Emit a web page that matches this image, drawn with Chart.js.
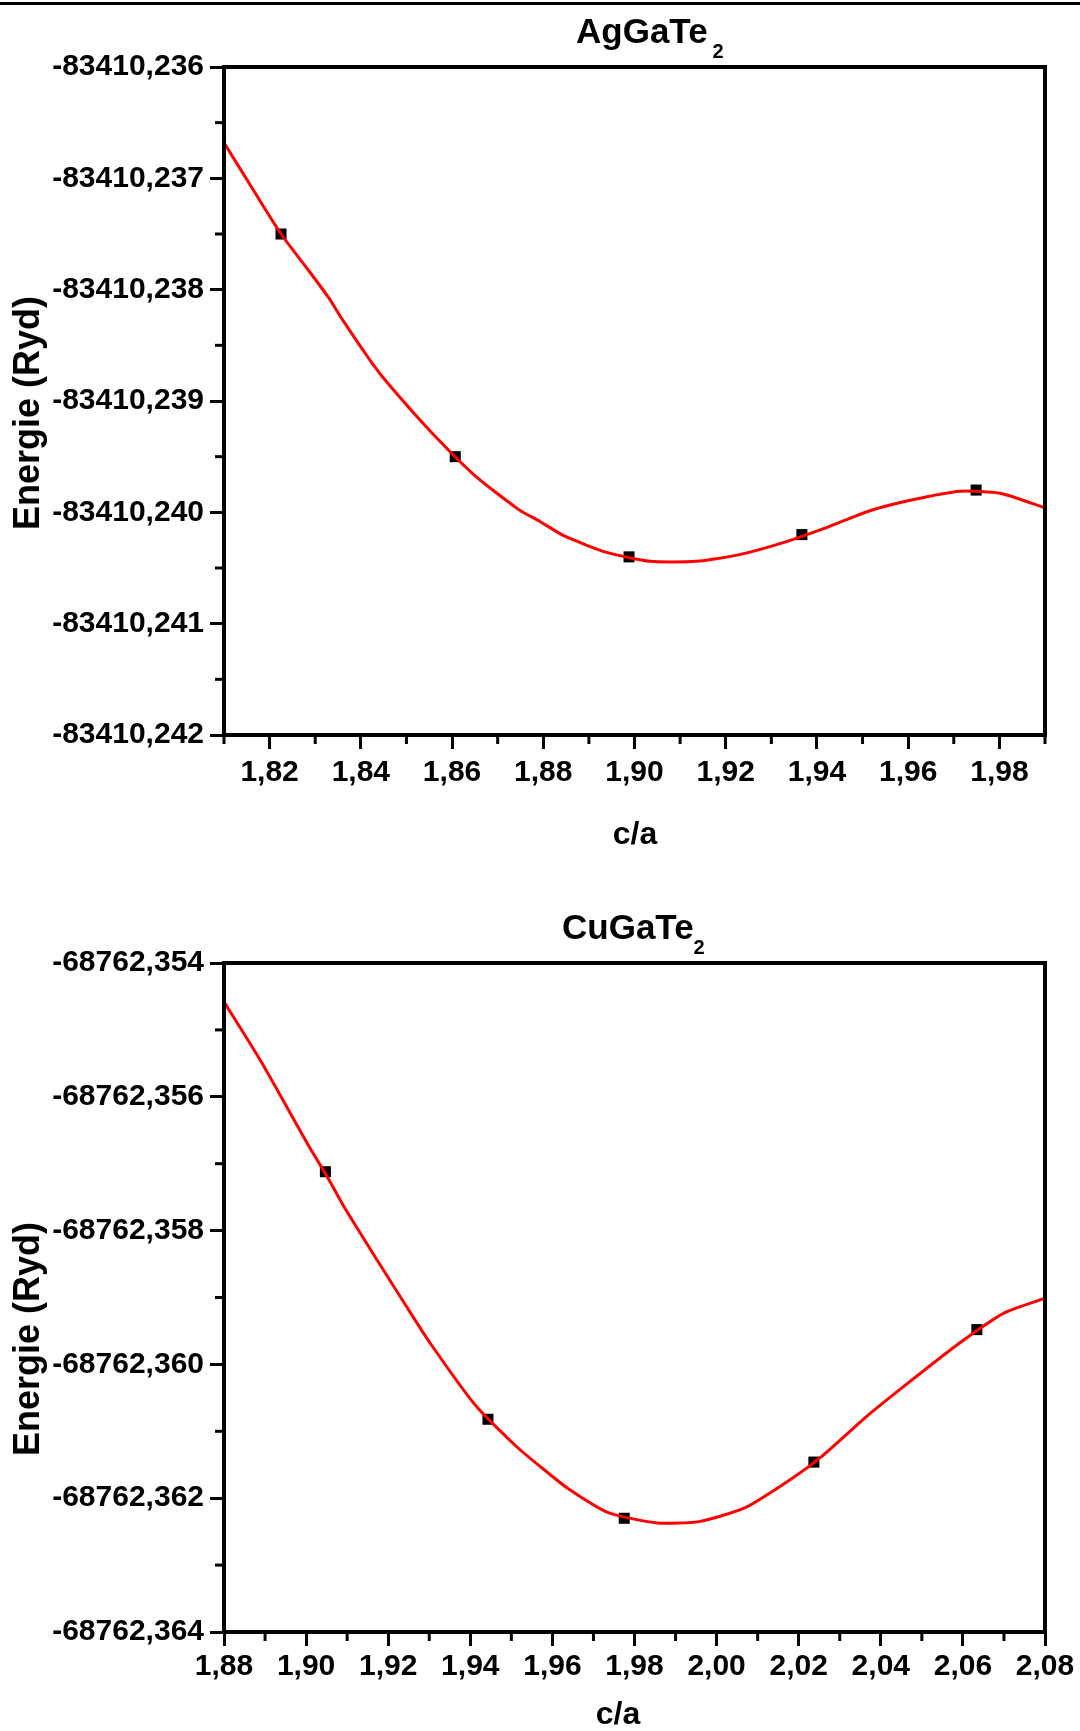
<!DOCTYPE html>
<html>
<head>
<meta charset="utf-8">
<script src="https://cdn.jsdelivr.net/npm/chart.js@4.4.1/dist/chart.umd.min.js"></script>
<style>
  html, body { margin: 0; padding: 0; background: #fff; }
  body { width: 1080px; height: 1731px; position: relative; overflow: hidden;
         font-family: 'Liberation Sans', Arial, sans-serif; font-weight: bold; color: #000; }
  #trait { position: absolute; left: 0; top: 2px; width: 1080px; height: 3px; background: #000; }
  canvas { position: absolute; left: 0; }
  .titre { position: absolute; font-size: 35px; line-height: 35px; white-space: nowrap; }
  .titre span { position: relative; top: 15px; font-size: 20px; }
  .ylab { position: absolute; font-size: 36px; line-height: 36px; white-space: nowrap;
          transform: translate(-50%, -50%) rotate(-90deg); }
  .xlab { position: absolute; font-size: 32px; line-height: 32px; white-space: nowrap;
          transform: translateX(-50%); }
</style>
</head>
<body>
<div id="trait"></div>
<canvas id="agChart" width="1080" height="870" style="top:0"></canvas>
<canvas id="cuChart" width="1080" height="861" style="top:870px"></canvas>

<div class="titre" style="left:576px; top:13px">AgGaTe<span style="margin-left:5px">2</span></div>
<div class="ylab" style="left:27px; top:413px">Energie (Ryd)</div>
<div class="xlab" style="left:635px; top:817px">c/a</div>

<div class="titre" style="left:562px; top:909px">CuGaTe<span>2</span></div>
<div class="ylab" style="left:27px; top:1339px">Energie (Ryd)</div>
<div class="xlab" style="left:618px; top:1697px">c/a</div>

<script>
// AgGaTe2 : points calculés + courbe d'ajustement
const agCa = [1.8225, 1.8607, 1.8988, 1.9367, 1.9749];
const agEnergie = [-83410.2375, -83410.2395, -83410.2404, -83410.2402, -83410.2398];
const agFitCa = [1.8100, 1.8165, 1.8225, 1.8286, 1.8329, 1.8363, 1.8423, 1.8461, 1.8552, 1.8650,
                 1.8748, 1.8792, 1.8845, 1.8939, 1.9034, 1.9136, 1.9230, 1.9328, 1.9419, 1.9513,
                 1.9607, 1.9713, 1.9804, 1.9900];
const agFitEnergie = [-83410.23668, -83410.23711, -83410.23750, -83410.23783, -83410.23807,
                      -83410.23829, -83410.23865, -83410.23885, -83410.23927, -83410.23967,
                      -83410.23998, -83410.24008, -83410.24021, -83410.24036, -83410.24044,
                      -83410.24044, -83410.24038, -83410.24027, -83410.24014, -83410.23999,
                      -83410.23989, -83410.23981, -83410.23983, -83410.23996];
const agXTicks = [1.82, 1.84, 1.86, 1.88, 1.90, 1.92, 1.94, 1.96, 1.98];
const agYTicks = [-83410.236, -83410.237, -83410.238, -83410.239, -83410.240, -83410.241, -83410.242];

// CuGaTe2
const cuCa = [1.9047, 1.9443, 1.9775, 2.0237, 2.0634];
const cuEnergie = [-68762.35712, -68762.36082, -68762.36230, -68762.36146, -68762.35948];
const cuFitCa = [1.8800, 1.8891, 1.9008, 1.9054, 1.9092, 1.9176, 1.9243, 1.9302, 1.9411, 1.9511,
                 1.9569, 1.9637, 1.9738, 1.9856, 1.9957, 2.0067, 2.0180, 2.0257, 2.0365, 2.0466,
                 2.0592, 2.0701, 2.0800];
const cuFitEnergie = [-68762.35458, -68762.35548, -68762.35675, -68762.35722, -68762.35764,
                      -68762.35847, -68762.35912, -68762.35968, -68762.36060, -68762.36122,
                      -68762.36152, -68762.36185, -68762.36222, -68762.36237, -68762.36235,
                      -68762.36215, -68762.36172, -68762.36137, -68762.36078, -68762.36028,
                      -68762.35968, -68762.35923, -68762.35901];
const cuXTicks = [1.88, 1.90, 1.92, 1.94, 1.96, 1.98, 2.00, 2.02, 2.04, 2.06, 2.08];
const cuYTicks = [-68762.354, -68762.356, -68762.358, -68762.360, -68762.362, -68762.364];

function pairs(xs, ys) {
  return xs.map((x, i) => ({ x: x, y: ys[i] }));
}

// petites graduations entre les grandes
function minorTicks(ticks, lo, hi) {
  const step = ticks[1] - ticks[0];
  const out = [];
  for (let i = -1; i < ticks.length; i++) {
    const v = ticks[0] + (i + 0.5) * step;
    if (v >= Math.min(lo, hi) - 1e-9 && v <= Math.max(lo, hi) + 1e-9) out.push(v);
  }
  return out;
}

// cadre noir + petites graduations
const cadre = {
  id: 'cadre',
  afterDraw(chart, args, opts) {
    const { ctx, chartArea: a, scales: { x, y } } = chart;
    ctx.save();
    ctx.strokeStyle = '#000';
    ctx.lineWidth = 3;
    opts.xMinor.forEach(v => {
      const px = x.getPixelForValue(v);
      ctx.beginPath(); ctx.moveTo(px, a.bottom); ctx.lineTo(px, a.bottom + 9); ctx.stroke();
    });
    opts.yMinor.forEach(v => {
      const py = y.getPixelForValue(v);
      ctx.beginPath(); ctx.moveTo(a.left - 9, py); ctx.lineTo(a.left, py); ctx.stroke();
    });
    ctx.lineWidth = 4;
    ctx.strokeRect(a.left, a.top, a.right - a.left, a.bottom - a.top);
    ctx.restore();
  }
};

Chart.defaults.font.family = "'Liberation Sans', Arial, sans-serif";
Chart.defaults.font.weight = 'bold';
Chart.defaults.color = '#000';

function makeChart(id, o) {
  const tickFont = { size: 30, weight: 'bold' };
  return new Chart(document.getElementById(id), {
    type: 'scatter',
    data: {
      datasets: [{
        data: pairs(o.fitX, o.fitY),
        showLine: true,
        borderColor: '#ff0000',
        borderWidth: 3,
        tension: 0.2,
        pointRadius: 0,
        fill: false
      }, {
        data: pairs(o.ptX, o.ptY),
        showLine: false,
        pointStyle: 'rect',
        pointRadius: 7.8,
        backgroundColor: '#000',
        borderWidth: 0
      }]
    },
    options: {
      responsive: false,
      animation: false,
      devicePixelRatio: 1,
      layout: { padding: { left: 0, right: 35, top: o.top, bottom: 0 } },
      plugins: {
        legend: { display: false },
        tooltip: { enabled: false },
        cadre: { xMinor: minorTicks(o.xTicks, o.xMin, o.xMax), yMinor: minorTicks(o.yTicks, o.yMin, o.yMax) }
      },
      scales: {
        x: {
          type: 'linear',
          min: o.xMin,
          max: o.xMax,
          afterFit: s => { s.height = o.xHeight; },
          afterBuildTicks: s => { s.ticks = o.xTicks.map(v => ({ value: v })); },
          grid: { drawOnChartArea: false, tickLength: 14, tickWidth: 3, tickColor: '#000' },
          border: { display: false },
          ticks: {
            autoSkip: false, maxRotation: 0, padding: o.xPad, color: '#000', font: tickFont,
            callback: v => v.toFixed(2).replace('.', ',')
          }
        },
        y: {
          type: 'linear',
          min: o.yMin,
          max: o.yMax,
          afterFit: s => { s.width = 224; },
          afterBuildTicks: s => { s.ticks = o.yTicks.map(v => ({ value: v })); },
          grid: { drawOnChartArea: false, tickLength: 14, tickWidth: 3, tickColor: '#000' },
          border: { display: false },
          ticks: {
            autoSkip: false, padding: 6, color: '#000', font: tickFont,
            callback: v => v.toFixed(3).replace('.', ',')
          }
        }
      }
    },
    plugins: [cadre]
  });
}

makeChart('agChart', {
  ptX: agCa, ptY: agEnergie, fitX: agFitCa, fitY: agFitEnergie,
  xTicks: agXTicks, yTicks: agYTicks,
  xMin: 1.81, xMax: 1.99, yMin: -83410.242, yMax: -83410.236,
  top: 67, xHeight: 135, xPad: 6
});

makeChart('cuChart', {
  ptX: cuCa, ptY: cuEnergie, fitX: cuFitCa, fitY: cuFitEnergie,
  xTicks: cuXTicks, yTicks: cuYTicks,
  xMin: 1.88, xMax: 2.08, yMin: -68762.364, yMax: -68762.354,
  top: 93, xHeight: 99, xPad: 3
});
</script>
</body>
</html>
